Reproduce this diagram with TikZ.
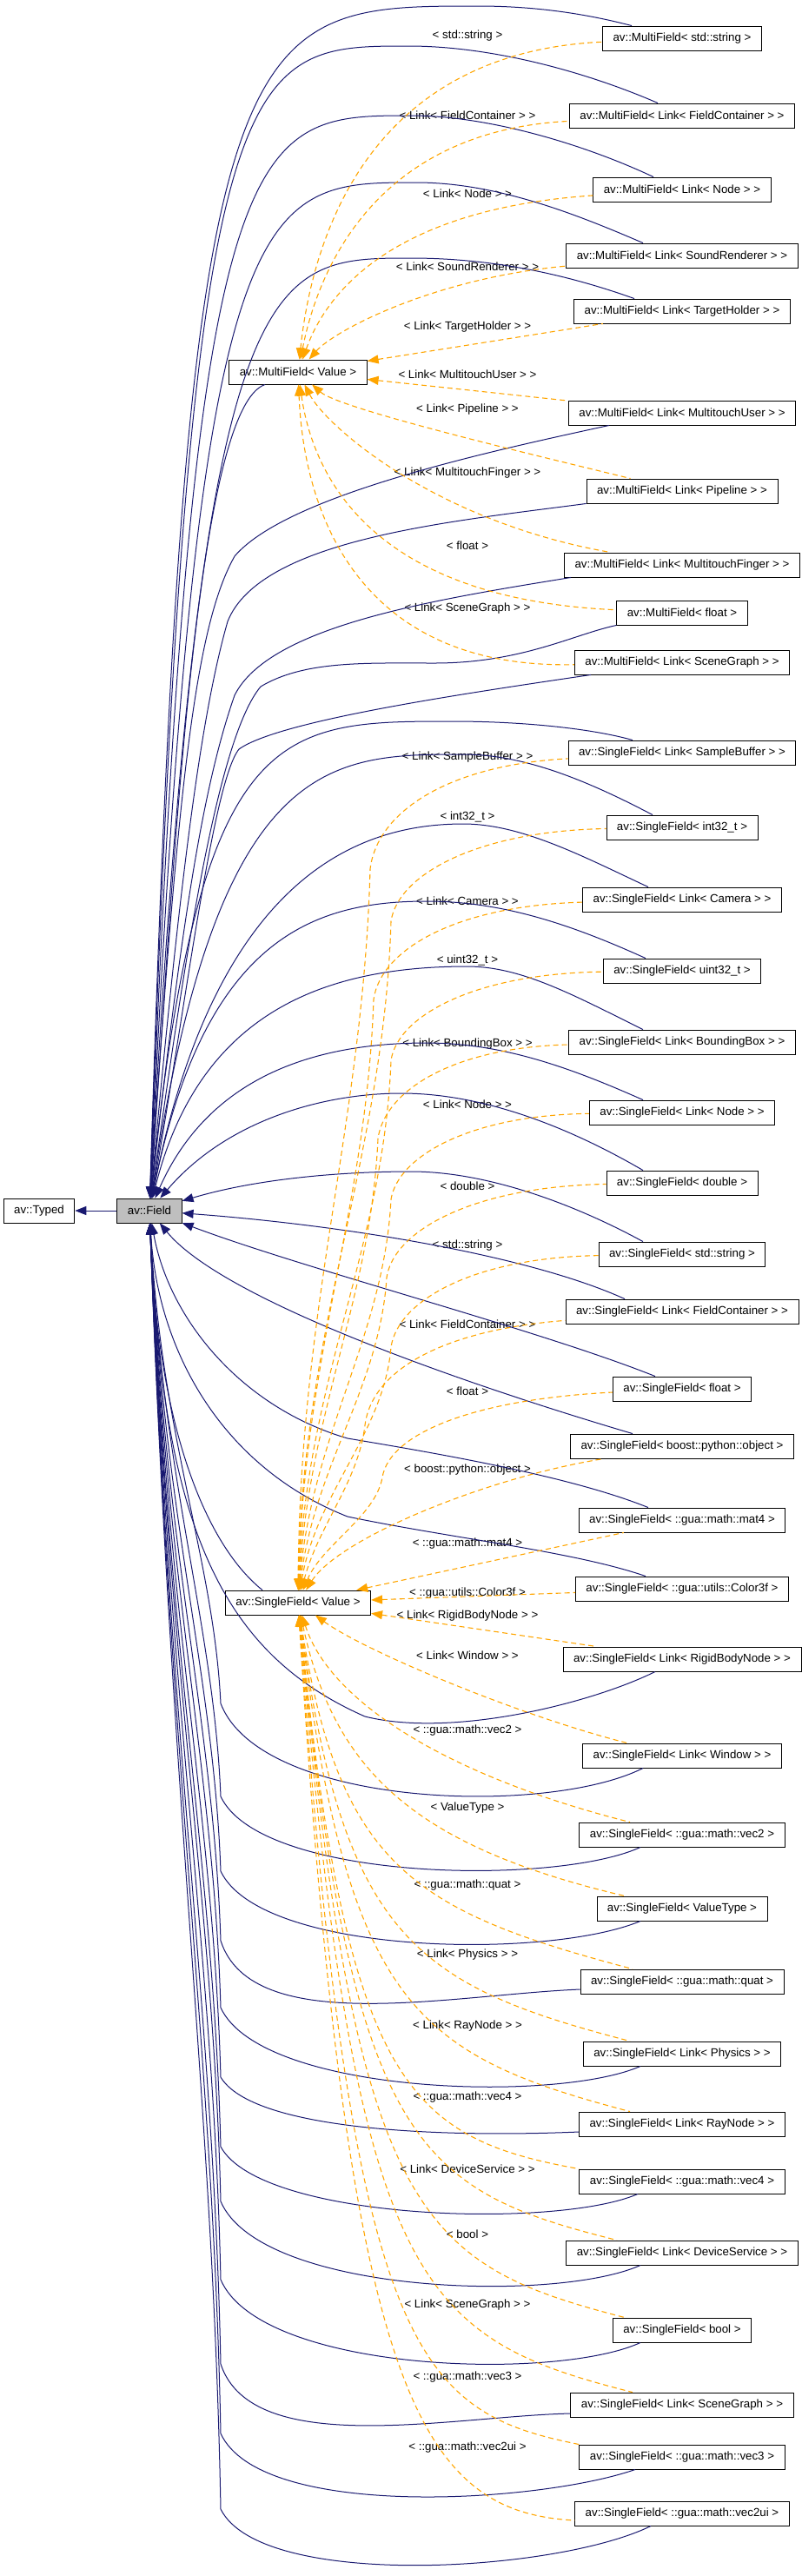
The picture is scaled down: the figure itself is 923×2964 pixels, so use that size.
\documentclass[tikz,border=0pt]{standalone}
\usepackage{fontspec}
\setmainfont{Liberation Sans}
\usetikzlibrary{arrows.meta}
\newcommand{\graphfont}{\fontsize{13.3}{16}\selectfont}
\definecolor{edgeblue}{RGB}{25,25,112}
\definecolor{edgeorange}{RGB}{255,165,0}
\definecolor{basegray}{RGB}{191,191,191}

\begin{document}
\begin{tikzpicture}[x=1pt, y=-1pt,
    cls/.style={draw=black, line width=0.9pt, fill=white, inner xsep=12pt, inner ysep=0pt, minimum height=28pt, font=\graphfont},
    base/.style={cls, fill=basegray},
    lbl/.style={font=\graphfont, inner sep=0pt},
    inh/.style={{Triangle[length=13pt,width=10pt]}-, draw=edgeblue, line width=1pt},
    tmpl/.style={{Triangle[length=13pt,width=10pt]}-, draw=edgeorange, line width=1.1pt, dash pattern=on 6pt off 4pt},
  ]
  \useasboundingbox (0,0) rectangle (923,2964);

  % Base classes
  \node[cls]  (typed)   at (45,1393)  {av::Typed};
  \node[base] (field)   at (172,1393) {av::Field};
  \node[cls]  (mfvalue) at (343,428)  {av::MultiField< Value >};
  \node[cls]  (sfvalue) at (343,1844) {av::SingleField< Value >};

  % MultiField instances
  \node[cls] (mfstr)      at (785,44)  {av::MultiField< std::string >};
  \node[cls] (mffc)       at (785,133) {av::MultiField< Link< FieldContainer > >};
  \node[cls] (mfnode)     at (785,218) {av::MultiField< Link< Node > >};
  \node[cls] (mfsound)    at (785,294) {av::MultiField< Link< SoundRenderer > >};
  \node[cls] (mftarget)   at (785,358) {av::MultiField< Link< TargetHolder > >};
  \node[cls] (mfmtuser)   at (785,475) {av::MultiField< Link< MultitouchUser > >};
  \node[cls] (mfpipe)     at (785,565) {av::MultiField< Link< Pipeline > >};
  \node[cls] (mfmtfinger) at (785,650) {av::MultiField< Link< MultitouchFinger > >};
  \node[cls] (mffloat)    at (785,705) {av::MultiField< float >};
  \node[cls] (mfsg)       at (785,762) {av::MultiField< Link< SceneGraph > >};

  % SingleField instances
  \node[cls] (sfsample) at (785,866)  {av::SingleField< Link< SampleBuffer > >};
  \node[cls] (sfint)    at (785,952)  {av::SingleField< int32\_t >};
  \node[cls] (sfcam)    at (785,1035) {av::SingleField< Link< Camera > >};
  \node[cls] (sfuint)   at (785,1117) {av::SingleField< uint32\_t >};
  \node[cls] (sfbbox)   at (785,1199) {av::SingleField< Link< BoundingBox > >};
  \node[cls] (sfnode)   at (785,1280) {av::SingleField< Link< Node > >};
  \node[cls] (sfdouble) at (785,1361) {av::SingleField< double >};
  \node[cls] (sfstr)    at (785,1443) {av::SingleField< std::string >};
  \node[cls] (sffc)     at (785,1509) {av::SingleField< Link< FieldContainer > >};
  \node[cls] (sffloat)  at (785,1598) {av::SingleField< float >};
  \node[cls] (sfboost)  at (785,1664) {av::SingleField< boost::python::object >};
  \node[cls] (sfmat)    at (785,1749) {av::SingleField< ::gua::math::mat4 >};
  \node[cls] (sfcolor)  at (785,1828) {av::SingleField< ::gua::utils::Color3f >};
  \node[cls] (sfrigid)  at (785,1909) {av::SingleField< Link< RigidBodyNode > >};
  \node[cls] (sfwin)    at (785,2020) {av::SingleField< Link< Window > >};
  \node[cls] (sfvec2)   at (785,2111) {av::SingleField< ::gua::math::vec2 >};
  \node[cls] (sfvt)     at (785,2196) {av::SingleField< ValueType >};
  \node[cls] (sfquat)   at (785,2280) {av::SingleField< ::gua::math::quat >};
  \node[cls] (sfphys)   at (785,2363) {av::SingleField< Link< Physics > >};
  \node[cls] (sfray)    at (785,2444) {av::SingleField< Link< RayNode > >};
  \node[cls] (sfvec4)   at (785,2510) {av::SingleField< ::gua::math::vec4 >};
  \node[cls] (sfdev)    at (785,2592) {av::SingleField< Link< DeviceService > >};
  \node[cls] (sfbool)   at (785,2681) {av::SingleField< bool >};
  \node[cls] (sfsg)     at (785,2767) {av::SingleField< Link< SceneGraph > >};
  \node[cls] (sfvec3)   at (785,2827) {av::SingleField< ::gua::math::vec3 >};
  \node[cls] (sfvec2ui) at (785,2892) {av::SingleField< ::gua::math::vec2ui >};

  % Template arguments
  \node[lbl] (lmfstr)      at (538,41)   {< std::string >};
  \node[lbl] (lmffc)       at (538,133)  {< Link< FieldContainer > >};
  \node[lbl] (lmfnode)     at (538,223)  {< Link< Node > >};
  \node[lbl] (lmfsound)    at (538,307)  {< Link< SoundRenderer > >};
  \node[lbl] (lmftarget)   at (538,376)  {< Link< TargetHolder > >};
  \node[lbl] (lmfmtuser)   at (538,431)  {< Link< MultitouchUser > >};
  \node[lbl] (lmfpipe)     at (538,471)  {< Link< Pipeline > >};
  \node[lbl] (lmfmtfinger) at (538,544)  {< Link< MultitouchFinger > >};
  \node[lbl] (lmffloat)    at (538,628)  {< float >};
  \node[lbl] (lmfsg)       at (538,700)  {< Link< SceneGraph > >};
  \node[lbl] (lsfsample)   at (538,871)  {< Link< SampleBuffer > >};
  \node[lbl] (lsfint)      at (538,940)  {< int32\_t >};
  \node[lbl] (lsfcam)      at (538,1037) {< Link< Camera > >};
  \node[lbl] (lsfuint)     at (538,1105) {< uint32\_t >};
  \node[lbl] (lsfbbox)     at (538,1201) {< Link< BoundingBox > >};
  \node[lbl] (lsfnode)     at (538,1271) {< Link< Node > >};
  \node[lbl] (lsfdouble)   at (538,1365) {< double >};
  \node[lbl] (lsfstr)      at (538,1433) {< std::string >};
  \node[lbl] (lsffc)       at (538,1524) {< Link< FieldContainer > >};
  \node[lbl] (lsffloat)    at (538,1601) {< float >};
  \node[lbl] (lsfboost)    at (538,1691) {< boost::python::object >};
  \node[lbl] (lsfmat)      at (538,1776) {< ::gua::math::mat4 >};
  \node[lbl] (lsfcolor)    at (538,1833) {< ::gua::utils::Color3f >};
  \node[lbl] (lsfrigid)    at (538,1859) {< Link< RigidBodyNode > >};
  \node[lbl] (lsfwin)      at (538,1905) {< Link< Window > >};
  \node[lbl] (lsfvec2)     at (538,1991) {< ::gua::math::vec2 >};
  \node[lbl] (lsfvt)       at (538,2080) {< ValueType >};
  \node[lbl] (lsfquat)     at (538,2169) {< ::gua::math::quat >};
  \node[lbl] (lsfphys)     at (538,2249) {< Link< Physics > >};
  \node[lbl] (lsfray)      at (538,2331) {< Link< RayNode > >};
  \node[lbl] (lsfvec4)     at (538,2413) {< ::gua::math::vec4 >};
  \node[lbl] (lsfdev)      at (538,2496) {< Link< DeviceService > >};
  \node[lbl] (lsfbool)     at (538,2571) {< bool >};
  \node[lbl] (lsfsg)       at (538,2652) {< Link< SceneGraph > >};
  \node[lbl] (lsfvec3)     at (538,2735) {< ::gua::math::vec3 >};
  \node[lbl] (lsfvec2ui)   at (538,2816) {< ::gua::math::vec2ui >};

  % Inheritance
  \draw[inh] (typed) -- (field);
  \draw[inh] (field) .. controls (215,7) and (270,7) .. (550,7) .. controls (630,7) and (690,20) .. ([xshift=-58]mfstr.north);
  \draw[inh] (field) .. controls (218,53) and (275,53) .. (470,53) .. controls (570,53) and (680,85) .. ([xshift=-28]mffc.north);
  \draw[inh] (field) .. controls (222,133) and (285,133) .. (473,133) .. controls (560,133) and (670,165) .. ([xshift=-33]mfnode.north);
  \draw[inh] (field) .. controls (228,210) and (295,210) .. (479,210) .. controls (570,210) and (660,245) .. ([xshift=-45]mfsound.north);
  \draw[inh] (field) .. controls (234,297) and (305,297) .. (473,297) .. controls (565,297) and (650,315) .. ([xshift=-55]mftarget.north);
  \draw[inh] (field) .. controls (205,900) and (225,720) .. (270,640) .. controls (330,570) and (560,520) .. ([xshift=-84]mfmtuser.south);
  \draw[inh] (field) .. controls (208,1000) and (232,820) .. (262,715) .. controls (300,620) and (520,600) .. (mfpipe.south west);
  \draw[inh] (field) .. controls (210,1050) and (235,900) .. (270,800) .. controls (310,720) and (500,690) .. ([xshift=-128]mfmtfinger.south);
  \draw[inh] (field) .. controls (213,1100) and (250,850) .. (300,790) .. controls (350,760) and (420,763) .. (500,763) .. controls (600,763) and (660,730) .. (mffloat.south west);
  \draw[inh] (field) .. controls (215,1150) and (245,900) .. (275,862) .. controls (320,830) and (520,800) .. ([xshift=-105]mfsg.south);
  \draw[inh] (field) .. controls (200,1000) and (225,470) .. ([xshift=-38]mfvalue.south);
  \draw[inh] (field) .. controls (230,830) and (320,830) .. (521,830) .. controls (600,830) and (680,838) .. ([xshift=-57]sfsample.north);
  \draw[inh] (field) .. controls (250,868) and (380,868) .. (533,868) .. controls (600,868) and (670,895) .. ([xshift=-34]sfint.north);
  \draw[inh] (field) .. controls (250,1000) and (420,948) .. (533,948) .. controls (600,948) and (670,985) .. ([xshift=-39]sfcam.north);
  \draw[inh] (field) .. controls (235,1080) and (360,1037) .. (491,1037) .. controls (580,1037) and (660,1065) .. ([xshift=-42]sfuint.north);
  \draw[inh] (field) .. controls (230,1160) and (380,1112) .. (538,1112) .. controls (600,1112) and (660,1145) .. ([xshift=-45]sfbbox.north);
  \draw[inh] (field) .. controls (240,1240) and (360,1200) .. (491,1200) .. controls (580,1200) and (660,1230) .. ([xshift=-45]sfnode.north);
  \draw[inh] (field) .. controls (260,1290) and (370,1258) .. (462,1258) .. controls (560,1258) and (660,1300) .. ([xshift=-45]sfdouble.north);
  \draw[inh] (field) .. controls (300,1355) and (400,1348) .. (473,1348) .. controls (560,1348) and (660,1385) .. ([xshift=-45]sfstr.north);
  \draw[inh] (field) .. controls (400,1410) and (610,1445) .. ([xshift=-66]sffc.north);
  \draw[inh] (field) .. controls (350,1460) and (620,1530) .. ([xshift=-31]sffloat.north);
  \draw[inh] (field) .. controls (260,1500) and (560,1600) .. ([xshift=-57]sfboost.north);
  \draw[inh] (field) .. controls (195,1520) and (280,1620) .. (400,1655) .. controls (520,1675) and (660,1700) .. ([xshift=-39]sfmat.north);
  \draw[inh] (field) .. controls (182,1560) and (260,1690) .. (400,1745) .. controls (520,1770) and (660,1785) .. ([xshift=-42]sfcolor.north);
  \draw[inh] (field) .. controls (182,1650) and (240,1780) .. ([xshift=-41]sfvalue.north);
  \draw[inh] (field) .. controls (188,1750) and (250,1900) .. (420,1975) .. controls (520,2000) and (680,1960) .. ([xshift=-31]sfrigid.south);
  \draw[inh] (field) .. controls (186,1656) and (246,1794) .. (254,1960) .. controls (300,2080) and (630,2090) .. ([xshift=-45]sfwin.south);
  \draw[inh] (field) .. controls (187,1704) and (246,1869) .. (254,2067) .. controls (300,2165) and (640,2170) .. ([xshift=-48]sfvec2.south);
  \draw[inh] (field) .. controls (188,1743) and (246,1929) .. (254,2153) .. controls (300,2250) and (630,2255) .. ([xshift=-48]sfvt.south);
  \draw[inh] (field) .. controls (189,1779) and (246,1985) .. (254,2233) .. controls (290,2345) and (520,2295) .. ([yshift=-9]sfquat.west);
  \draw[inh] (field) .. controls (190,1813) and (246,2039) .. (254,2310) .. controls (300,2410) and (640,2420) .. ([xshift=-48]sfphys.south);
  \draw[inh] (field) .. controls (191,1849) and (246,2095) .. (254,2390) .. controls (290,2450) and (500,2460) .. ([yshift=-9]sfray.west);
  \draw[inh] (field) .. controls (192,1885) and (246,2151) .. (254,2470) .. controls (300,2555) and (640,2565) .. ([xshift=-51]sfvec4.south);
  \draw[inh] (field) .. controls (193,1914) and (246,2195) .. (254,2533) .. controls (300,2640) and (640,2650) .. ([xshift=-48]sfdev.south);
  \draw[inh] (field) .. controls (194,1954) and (246,2258) .. (254,2623) .. controls (300,2730) and (640,2740) .. ([xshift=-48]sfbool.south);
  \draw[inh] (field) .. controls (195,1998) and (246,2326) .. (254,2720) .. controls (290,2830) and (520,2780) .. ([yshift=-10]sfsg.west);
  \draw[inh] (field) .. controls (196,2034) and (246,2382) .. (254,2800) .. controls (300,2900) and (620,2880) .. ([xshift=-54]sfvec3.south);
  \draw[inh] (field) .. controls (197,2073) and (246,2443) .. (254,2887) .. controls (300,2980) and (640,2960) .. ([xshift=-36]sfvec2ui.south);

  % Template instances of MultiField
  \draw[tmpl] (mfvalue) .. controls (362,250) and (440,60) .. (mfstr);
  \draw[tmpl] (mfvalue) .. controls (368,300) and (440,150) .. (mffc);
  \draw[tmpl] (mfvalue) .. controls (378,330) and (460,240) .. (mfnode);
  \draw[tmpl] (mfvalue) .. controls (385,380) and (500,320) .. (mfsound);
  \draw[tmpl] (mfvalue) -- (mftarget);
  \draw[tmpl] (mfvalue) -- (mfmtuser);
  \draw[tmpl] (mfvalue) .. controls (390,470) and (600,520) .. (mfpipe);
  \draw[tmpl] (mfvalue) .. controls (375,490) and (500,600) .. (mfmtfinger);
  \draw[tmpl] (mfvalue) .. controls (362,560) and (440,690) .. (mffloat);
  \draw[tmpl] (mfvalue) .. controls (350,600) and (420,770) .. (mfsg);

  % Template instances of SingleField
  \draw[tmpl] (sfvalue) .. controls (345,1498) and (418,1290) .. (426,1000) .. controls (434,933) and (518,880) .. (sfsample);
  \draw[tmpl] (sfvalue) .. controls (348,1522) and (442,1330) .. (450,1060) .. controls (458,1006) and (550,956) .. (sfint);
  \draw[tmpl] (sfvalue) .. controls (350,1558) and (422,1388) .. (430,1150) .. controls (438,1092) and (526,1042) .. (sfcam);
  \draw[tmpl] (sfvalue) .. controls (353,1586) and (442,1433) .. (450,1220) .. controls (458,1168) and (548,1120) .. (sfuint);
  \draw[tmpl] (sfvalue) .. controls (356,1622) and (427,1492) .. (435,1310) .. controls (443,1254) and (523,1205) .. (sfbbox);
  \draw[tmpl] (sfvalue) .. controls (359,1650) and (442,1537) .. (450,1380) .. controls (458,1330) and (542,1283) .. (sfnode);
  \draw[tmpl] (sfvalue) .. controls (362,1686) and (437,1596) .. (445,1470) .. controls (453,1415) and (547,1365) .. (sfdouble);
  \draw[tmpl] (sfvalue) .. controls (364,1718) and (442,1648) .. (450,1550) .. controls (458,1496) and (546,1447) .. (sfstr);
  \draw[tmpl] (sfvalue) .. controls (367,1754) and (412,1706) .. (420,1640) .. controls (428,1575) and (513,1530) .. (sffc);
  \draw[tmpl] (sfvalue) .. controls (370,1778) and (432,1745) .. (440,1700) .. controls (448,1649) and (546,1610) .. (sffloat);
  \draw[tmpl] (sfvalue) .. controls (390,1770) and (560,1700) .. (sfboost);
  \draw[tmpl] (sfvalue) -- (sfmat);
  \draw[tmpl] (sfvalue) -- (sfcolor);
  \draw[tmpl] (sfvalue) -- (sfrigid);
  \draw[tmpl] (sfvalue) .. controls (420,1900) and (600,1975) .. ([xshift=-63]sfwin.north);
  \draw[tmpl] (sfvalue) .. controls (380,1960) and (520,2045) .. ([xshift=-60]sfvec2.north);
  \draw[tmpl] (sfvalue) .. controls (385,2040) and (480,2125) .. ([xshift=-66]sfvt.north);
  \draw[tmpl] (sfvalue) .. controls (390,2150) and (480,2200) .. ([xshift=-57]sfquat.north);
  \draw[tmpl] (sfvalue) .. controls (395,2230) and (480,2285) .. ([xshift=-60]sfphys.north);
  \draw[tmpl] (sfvalue) .. controls (400,2310) and (480,2365) .. ([xshift=-60]sfray.north);
  \draw[tmpl] (sfvalue) .. controls (400,2400) and (470,2460) .. (sfvec4.north west);
  \draw[tmpl] (sfvalue) .. controls (405,2470) and (480,2520) .. ([xshift=-75]sfdev.north);
  \draw[tmpl] (sfvalue) .. controls (410,2550) and (480,2605) .. ([xshift=-66]sfbool.north);
  \draw[tmpl] (sfvalue) .. controls (410,2630) and (480,2690) .. ([xshift=-57]sfsg.north);
  \draw[tmpl] (sfvalue) .. controls (405,2710) and (480,2775) .. (sfvec3.north west);
  \draw[tmpl] (sfvalue) .. controls (400,2750) and (480,2890) .. ([yshift=-8]sfvec2ui.west);
\end{tikzpicture}
\end{document}
